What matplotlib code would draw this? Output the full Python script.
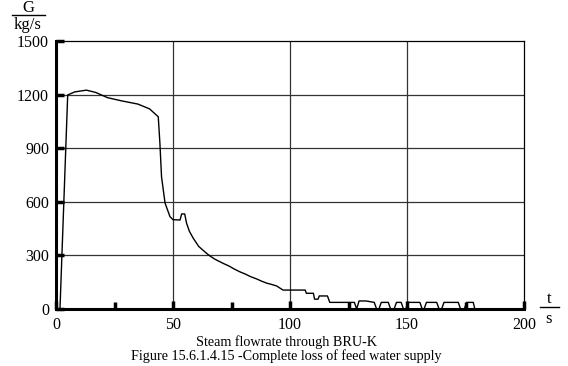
import matplotlib
matplotlib.use("Agg")
import matplotlib.pyplot as plt

# steam flowrate through BRU-K: (t [s], G [kg/s])
rise = [(0, 0), (1.7, 0), (5, 1198), (8, 1215), (13, 1225), (17, 1212),
        (22, 1183), (28, 1165), (35, 1147), (40, 1120), (43.7, 1076)]
drop = [(44.4, 928), (45.1, 740), (46.6, 593), (48.7, 517), (50, 500),
        (53, 498), (53.7, 532), (55, 532)]
decay = [(55.8, 480), (57, 435), (58.7, 395), (61, 350), (64.4, 311), (66, 295),
         (68, 278), (71.5, 255), (74, 240), (76, 225), (78.6, 208), (81, 195),
         (83, 182), (85.8, 168), (88, 155), (90, 145), (92, 138), (94.3, 129),
         (97, 106), (106.5, 106), (107, 88), (110, 88), (110.5, 55), (112, 55),
         (112.5, 73), (116, 73), (117, 37), (127.5, 37)]
pulses = [(128.5, 0), (129.5, 45), (132.5, 45), (136, 37), (137, 0), (138, 0),
          (139, 37), (142, 37), (143, 0), (144.5, 0), (145.5, 37), (147.5, 37),
          (148.5, 0), (149.5, 0), (150.5, 37), (155.5, 37), (156.5, 0),
          (157.3, 0), (158.3, 37), (162.7, 37), (163.7, 0), (164.8, 0),
          (165.8, 37), (171.9, 37), (172.9, 0), (174.5, 0), (175.5, 37),
          (178.3, 37), (179, 0)]

t = [p[0] for p in rise + drop + decay + pulses]
G = [p[1] for p in rise + drop + decay + pulses]

y_ticks = [0, 300, 600, 900, 1200, 1500]
x_ticks = [0, 50, 100, 150, 200]

plt.rcParams["font.family"] = ["Liberation Serif", "DejaVu Serif"]

fig = plt.figure(figsize=(5.68, 3.66), dpi=100)
ax = fig.add_axes([56 / 568, 1 - 309 / 366, 468 / 568, 268 / 366])

ax.plot(t, G, color="black", linewidth=1.0)

ax.set_xlim(0, 200)
ax.set_ylim(0, 1500)
ax.set_xticks(x_ticks)
ax.set_xticks([25, 75, 125, 175], minor=True)
ax.set_yticks(y_ticks)
ax.set_xticklabels([str(v) for v in x_ticks], fontsize=11.5)
ax.set_yticklabels([str(v) for v in y_ticks], fontsize=11.5)
ax.tick_params(direction="in", length=6, width=2.5, pad=5)
ax.tick_params(which="minor", direction="in", length=5, width=2.5)
ax.tick_params(axis="x", pad=6)

for v in [300, 600, 900, 1200]:
    ax.axhline(v, color="#333333", linewidth=0.9, zorder=0)
for v in [50, 100, 150]:
    ax.axvline(v, color="#333333", linewidth=0.9, zorder=0)

ax.spines["left"].set_linewidth(2.2)
ax.spines["bottom"].set_linewidth(2.2)
ax.spines["top"].set_linewidth(0.9)
ax.spines["right"].set_linewidth(0.9)

# axis unit labels written as fractions
fig.text(28 / 568, 1 - 8 / 366, "G", ha="center", va="center", fontsize=12)
fig.add_artist(plt.Line2D([12 / 568, 45 / 568], [1 - 15 / 366, 1 - 15 / 366],
                          color="black", linewidth=1))
fig.text(28 / 568, 1 - 25 / 366, "kg/s", ha="center", va="center", fontsize=12)
fig.text(549 / 568, 1 - 299 / 366, "t", ha="center", va="center", fontsize=12)
fig.add_artist(plt.Line2D([540 / 568, 559 / 568], [1 - 307 / 366, 1 - 307 / 366],
                          color="black", linewidth=1))
fig.text(549 / 568, 1 - 319 / 366, "s", ha="center", va="center", fontsize=12)

fig.text(286 / 568, 1 - 342 / 366, "Steam flowrate through BRU-K",
         ha="center", va="center", fontsize=10.2)
fig.text(286 / 568, 1 - 356.5 / 366,
         "Figure 15.6.1.4.15 -Complete loss of feed water supply",
         ha="center", va="center", fontsize=10.2)

fig.savefig("out.png", dpi=100)
